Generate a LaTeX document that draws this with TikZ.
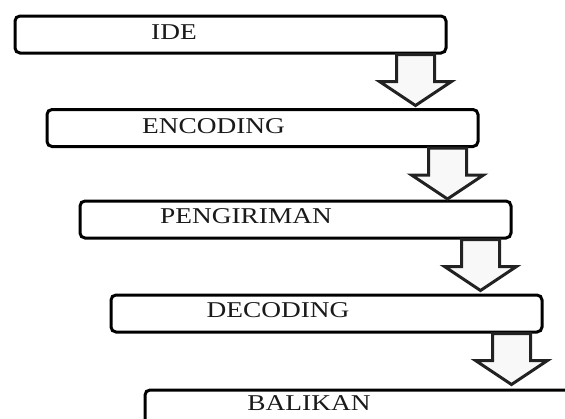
\documentclass[tikz,border=0pt]{standalone}
\usepackage{fontspec}
\setmainfont{Liberation Serif}
\usetikzlibrary{calc}
\definecolor{txtc}{HTML}{1A1A1A}
\definecolor{arrc}{HTML}{222222}
\definecolor{arrfill}{HTML}{F8F8F8}
\begin{document}
\begin{tikzpicture}[x=1pt,y=-1pt,
  stepbox/.style={draw=black, line width=3pt, rounded corners=5pt, fill=white,
    minimum width=431pt, minimum height=37pt, anchor=north west, inner sep=0pt},
  lbl/.style={anchor=base, inner sep=0pt, text=txtc,
    font=\fontsize{22.6pt}{26pt}\selectfont},
  bigarrow/.style={draw=arrc, fill=arrfill, line width=3pt, line join=miter}
]
\useasboundingbox (0,0) rectangle (565,418);
\begin{scope}
\clip (0,0) rectangle (565,418);
\node[stepbox] (b1) at (13.5,14.5) {};
\node[stepbox] (b2) at (45.5,108) {};
\node[stepbox] (b3) at (78.5,199.5) {};
\node[stepbox] (b4) at (109.5,293.5) {};
\node[stepbox] (b5) at (143.5,388.5) {};

\node[lbl] (t1) at (174,39) {\scalebox{1.21}[1]{IDE}};
\node[lbl] (t2) at (213.5,133) {\scalebox{1.21}[1]{ENCODING}};
\node[lbl] (t3) at (246,223) {\scalebox{1.21}[1]{PENGIRIMAN}};
\node[lbl] (t4) at (278,317) {\scalebox{1.21}[1]{DECODING}};
\node[lbl] (t5) at (309,410) {\scalebox{1.21}[1]{BALIKAN}};

\foreach \i/\j in {1/2,2/3,3/4,4/5}{
  \draw[bigarrow] ($(b\i.south east)+(-51,0)$) -- ++(0,27) -- ++(-17,0)
     -- ++(36,24) -- ++(36,-24) -- ++(-17,0) -- ++(0,-27) -- cycle;
}
\end{scope}
\end{tikzpicture}
\end{document}
